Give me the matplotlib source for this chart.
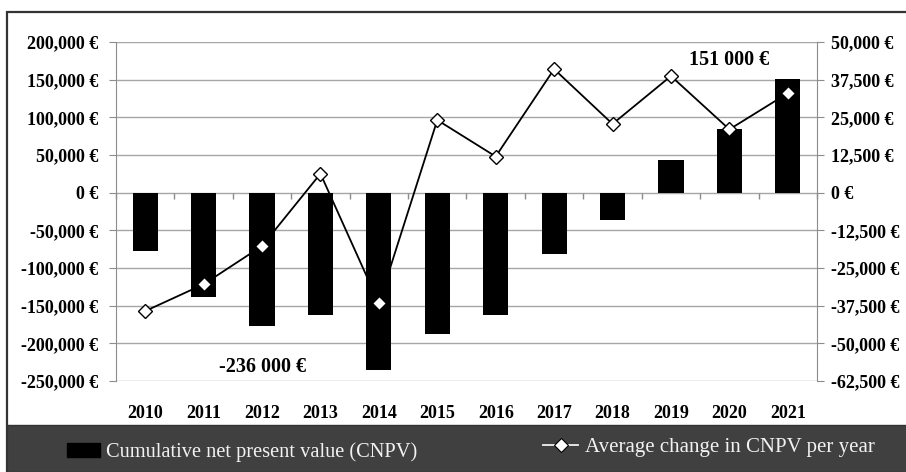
import matplotlib
matplotlib.use('Agg')
import matplotlib.pyplot as plt
import numpy as np
from matplotlib.lines import Line2D
from matplotlib.patches import Rectangle, Patch
from matplotlib.ticker import FuncFormatter, MultipleLocator

# ==============================
# DATA
# ==============================
years = ['2010', '2011', '2012', '2013', '2014', '2015',
         '2016', '2017', '2018', '2019', '2020', '2021']
cnpv = [-78000, -139000, -177000, -162000, -236000, -188000,
        -163000, -81000, -36000, 43000, 85000, 151000]
avg_change = [-39300, -30400, -17700, 6300, -36700, 24100,
              12000, 41000, 22800, 38700, 21000, 33000]

label_bar = 'Cumulative net present value (CNPV)'
label_line = 'Average change in CNPV per year'
note_max = '151 000 €'
note_min = '-236 000 €'

plt.rcParams['font.family'] = ['Liberation Serif', 'DejaVu Serif']

GRID = '#a6a6a6'
SPINE = '#8c8c8c'
BAND = '#404040'

# ==============================
# FIGURE AND AXES
# ==============================
fig = plt.figure(figsize=(9.06, 4.72), dpi=100)
W, H = 906, 472
ax_left, ax_bottom = 116 / W, 1 - 381 / H
ax_w, ax_h = (817 - 116) / W, (381 - 42) / H
ax1 = fig.add_axes([ax_left, ax_bottom, ax_w, ax_h])
ax2 = ax1.twinx()

x = np.arange(len(years))

# bars on the primary (left) axis
bars = ax1.bar(x, cnpv, width=0.43, color='black', zorder=2)

# line on the secondary (right) axis
ax2.plot(x, avg_change, color='black', linewidth=1.3, marker='D',
         markersize=7.5, markerfacecolor='white', markeredgecolor='black',
         markeredgewidth=1.0, zorder=3)

# --- limits and ticks ---
ax1.set_xlim(-0.5, len(years) - 0.5)
ax1.set_ylim(-250000, 200000)
ax2.set_ylim(-62500, 50000)
ax1.yaxis.set_major_locator(MultipleLocator(50000))
ax2.yaxis.set_major_locator(MultipleLocator(12500))
euro = FuncFormatter(lambda v, p: f'{v:,.0f} €')
ax1.yaxis.set_major_formatter(euro)
ax2.yaxis.set_major_formatter(euro)

ax1.set_xticks(x)
ax1.set_xticklabels(years)
ax1.tick_params(axis='x', length=0, pad=17, labelsize=13)
for lab in ax1.get_xticklabels():
    lab.set_fontweight('bold')

ax1.tick_params(axis='y', length=5, color=SPINE, labelsize=13, pad=8)
ax2.tick_params(axis='y', length=5, color=SPINE, labelsize=13, pad=5)
for lab in ax1.get_yticklabels() + ax2.get_yticklabels():
    lab.set_fontweight('bold')

# grid
ax1.set_axisbelow(True)
ax1.grid(True, axis='y', color=GRID, linewidth=1.0)

# spines
for s in ['top', 'right', 'bottom']:
    ax1.spines[s].set_visible(False)
for s in ['top', 'left', 'bottom']:
    ax2.spines[s].set_visible(False)
ax1.spines['left'].set_color(SPINE)
ax2.spines['right'].set_color(SPINE)

# category boundary ticks hanging below the zero line (thin helper axes)
ymin, ymax = ax1.get_ylim()
zero_frac = (0 - ymin) / (ymax - ymin)
axz = fig.add_axes([ax_left, ax_bottom + zero_frac * ax_h, ax_w, 1e-4])
axz.set_xlim(ax1.get_xlim())
axz.set_xticks(np.arange(len(years) + 1) - 0.5)
axz.set_yticks([])
axz.tick_params(axis='x', direction='out', length=4, width=1.0,
                color=SPINE, labelbottom=False)
axz.patch.set_visible(False)
for s in axz.spines.values():
    s.set_visible(False)

# --- annotations ---
ax1.text(10, 176000, note_max, ha='center', va='center', fontsize=14.5,
         fontweight='bold', zorder=4,
         bbox=dict(facecolor='white', edgecolor='none', pad=4))
ax1.text(2, -231000, note_min, ha='center', va='center', fontsize=14.5,
         fontweight='bold', zorder=4)

# ==============================
# FRAME AND LEGEND BAND
# ==============================
fig.patches.append(Rectangle((7 / W, -0.05), 1.2, 1 - 11.5 / H + 0.05,
                             transform=fig.transFigure, facecolor='none',
                             edgecolor='#333333', linewidth=1.6, zorder=0))
fig.patches.append(Rectangle((7 / W, 0), 1.0, 1 - 425 / H,
                             transform=fig.transFigure, facecolor=BAND,
                             edgecolor='#333333', linewidth=1.0, zorder=1))

h_bar = Patch(facecolor='black', edgecolor='black')
h_line = Line2D([], [], color='#f2f2f2', linewidth=1.3, marker='D',
                markersize=7.5, markerfacecolor='white',
                markeredgecolor='black', markeredgewidth=0.8)

leg1 = fig.legend([h_bar], [label_bar], loc='center left',
                  bbox_to_anchor=(67 / W, 1 - 452 / H), frameon=False,
                  fontsize=14.7, handlelength=1.6, handleheight=0.7,
                  handletextpad=0.33, borderpad=0, borderaxespad=0)
leg2 = fig.legend([h_line], [label_line], loc='center left',
                  bbox_to_anchor=(543 / W, 1 - 447 / H), frameon=False,
                  fontsize=15.0, handlelength=1.7,
                  handletextpad=0.3, borderpad=0, borderaxespad=0)
for leg in (leg1, leg2):
    leg.set_zorder(5)
    for t in leg.get_texts():
        t.set_color('#f2f2f2')

# ===================================
# SAVE
# ===================================
fig.savefig('out.png', dpi=100)
plt.close(fig)
